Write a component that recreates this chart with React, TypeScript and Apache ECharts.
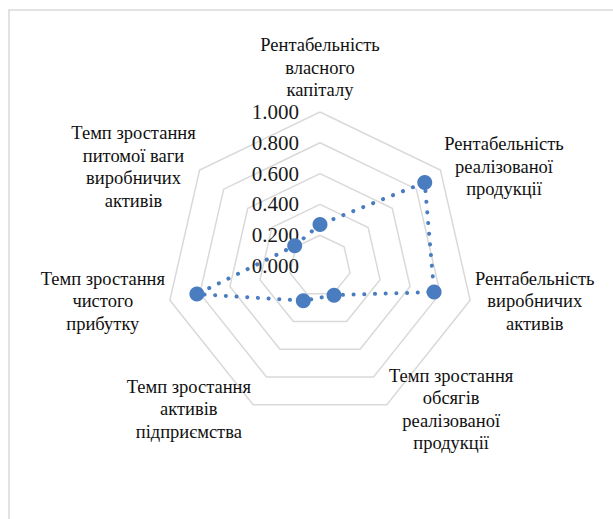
import React, { useEffect, useRef } from "react";
import * as echarts from "echarts";

// Indicators, listed clockwise starting from the top axis (as drawn in the reference)
const indicatorNames: string[] = [
  "Рентабельність\nвласного\nкапіталу",
  "Рентабельність\nреалізованої\nпродукції",
  "Рентабельність\nвиробничих\nактивів",
  "Темп зростання\nобсягів\nреалізованої\nпродукції",
  "Темп зростання\nактивів\nпідприємства",
  "Темп зростання\nчистого\nприбутку",
  "Темп зростання\nпитомої ваги\nвиробничих\nактивів",
];

// Values in the same (clockwise) order
const seriesValues: number[] = [0.27, 0.87, 0.76, 0.21, 0.25, 0.82, 0.21];

const axisMin = 0;
const axisMax = 1;
const axisSplits = 5;

const FONT = "Liberation Serif";
const BLUE = "#4A7CC0";

export default function App() {
  const ref = useRef<HTMLDivElement>(null);

  useEffect(() => {
    if (!ref.current) return;
    const chart = echarts.init(ref.current, null, { renderer: "svg" });

    // ECharts lays indicators out counter-clockwise; reorder so that they appear clockwise
    const order = [0, ...indicatorNames.map((_, i) => i).slice(1).reverse()];

    const labelStyle = {
      fontFamily: FONT,
      fontSize: 21,
      color: "#1a1a1a",
      margin: 21,
      formatter: (v: number) => v.toFixed(3),
    };

    const indicator = order.map((idx, k) => {
      const base: any = { name: indicatorNames[idx], min: axisMin, max: axisMax };
      if (k === 0) base.axisLabel = { show: true, ...labelStyle };
      return base;
    });

    chart.setOption({
      animation: false,
      backgroundColor: "#ffffff",
      graphic: [
        {
          type: "rect",
          shape: { x: 9, y: 10, width: 640, height: 560 },
          style: { fill: "none", stroke: "#D9D9D9", lineWidth: 1.5 },
          silent: true,
        },
      ],
      radar: {
        center: [320, 266],
        radius: 154,
        startAngle: 90,
        splitNumber: axisSplits,
        shape: "polygon",
        indicator,
        axisName: {
          fontFamily: FONT,
          fontSize: 18.5,
          lineHeight: 22.5,
          color: "#111",
          formatter: (name: string) =>
            name
              .split("\n")
              .map((l) => `{c|${l}}`)
              .join("\n"),
          rich: {
            c: {
              align: "center",
              fontFamily: FONT,
              fontSize: 18.5,
              lineHeight: 22.5,
              color: "#111",
            },
          },
        },
        nameGap: 5,
        axisLine: { show: false },
        axisTick: { show: false },
        axisLabel: { show: false, ...labelStyle },
        splitLine: { lineStyle: { color: "#D9D9D9", width: 1.5 } },
        splitArea: { show: false },
      },
      series: [
        {
          type: "radar",
          symbol: "circle",
          symbolSize: 15,
          itemStyle: { color: BLUE },
          lineStyle: { color: BLUE, width: 4, type: [0.1, 10.6], cap: "round" },
          data: [{ value: order.map((i) => seriesValues[i]), name: "Показники" }],
        },
      ],
    });

    return () => chart.dispose();
  }, []);

  return (
    <div style={{ position: "absolute", left: 0, top: 0, width: 613, height: 519, background: "#fff" }}>
      <div ref={ref} style={{ width: 613, height: 519 }} />
    </div>
  );
}
